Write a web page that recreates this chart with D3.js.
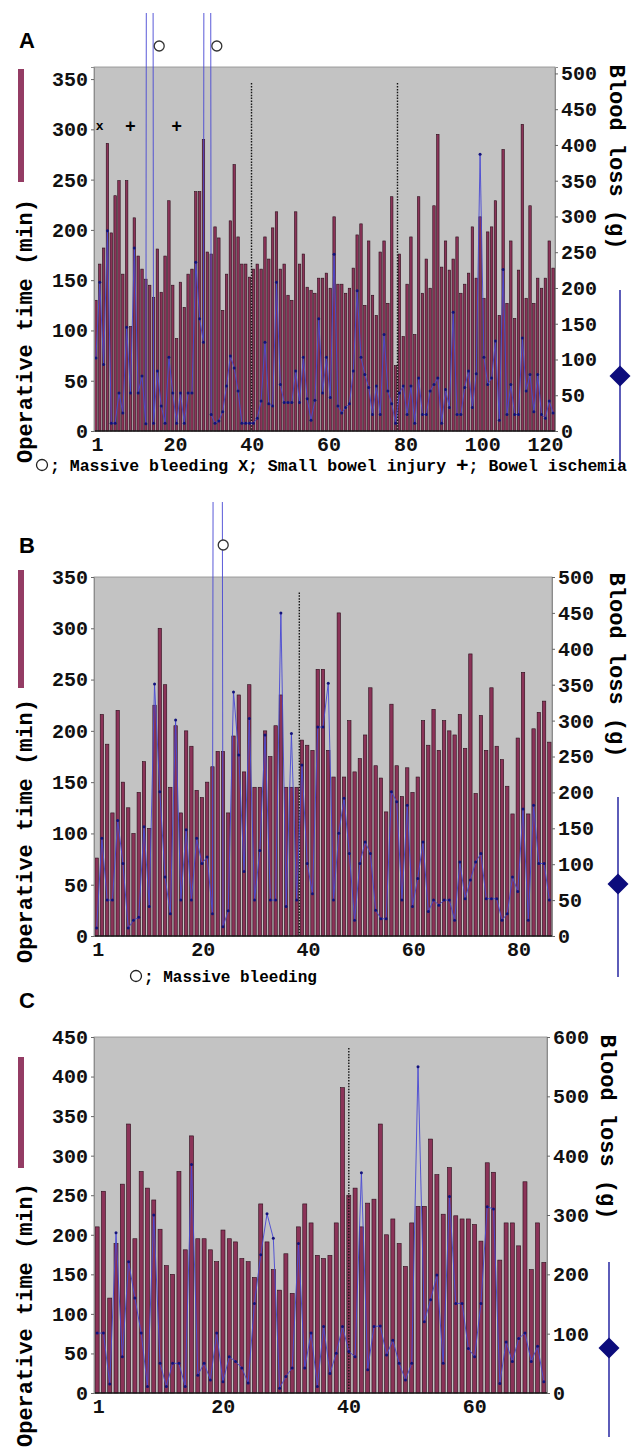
<!DOCTYPE html>
<html>
<head>
<meta charset="utf-8">
<script src="https://cdn.jsdelivr.net/npm/d3@7"></script>
<style>
body { margin: 0; background: #fff; }
svg { display: block; }
</style>
</head>
<body>
<svg width="631" height="1454"></svg>
<script>
// operative time (min) and blood loss (g) per case
var opTimeA = [130,166,182,286,197,234,249,156,249,104, 212,174,161,151,145,133,181,138,174,229,
    145,92,148,123,156,161,238,238,290,178, 176,203,192,120,156,209,265,193,166,166,
    153,161,166,161,193,171,202,218,161,166, 135,130,218,166,176,143,140,137,152,152,
    157,142,213,146,146,137,142,162,195,206, 125,189,135,115,178,189,127,233,65,176,
    94,146,193,96,233,137,171,142,224,295, 163,189,160,171,193,137,146,157,203,152,
    213,132,198,203,229,115,280,127,189,112, 160,305,132,224,127,152,142,152,189,162];
var bloodA = [102,208,93,280,11,11,53,25,145,53, 256,53,77,10,5000,11,84,35,11,103,
    53,11,53,11,53,53,236,157,124,5000, 23,11,14,27,63,105,88,56,11,11,
    11,11,18,42,124,38,35,208,65,40, 40,40,84,40,103,45,15,43,157,53,
    103,47,247,35,25,33,38,84,196,103, 79,61,23,63,23,135,56,38,11,53,
    63,23,63,11,74,23,23,56,65,74, 11,58,33,166,23,23,61,84,33,80,
    387,103,65,74,126,15,226,23,65,23, 23,130,56,79,27,79,23,18,42,25];

var opTimeB = [76,216,187,120,220,150,125,100,140,170, 105,225,300,245,145,205,120,200,185,142,
    135,150,165,180,180,120,195,235,160,245, 145,145,200,175,205,235,145,145,145,191,
    186,181,260,260,181,155,315,155,210,160, 173,196,242,166,154,121,226,166,136,164,
    140,155,210,186,221,181,210,200,196,216, 183,275,139,215,181,242,185,172,146,119,
    193,257,119,202,218,229,189];
var bloodB = [11,136,50,50,161,101,11,22,26,152, 41,351,201,82,31,301,50,148,50,136,
    101,110,31,5000,13,35,340,252,90,303, 50,119,280,50,50,450,41,282,50,238,
    101,59,291,291,352,50,143,192,115,22, 101,131,115,36,24,24,201,187,50,182,
    41,80,131,34,50,43,50,50,22,103, 52,78,103,115,52,52,52,22,31,82,
    62,177,22,182,101,101,50];

var opTimeC = [210,255,120,189,264,340,195,280,259,244, 207,161,150,280,181,325,195,195,181,166,
    206,195,191,170,166,146,239,191,156,130, 176,126,210,239,215,174,170,174,215,386,
    250,259,210,240,245,340,200,220,189,160, 215,236,236,321,276,226,285,224,220,220,
    213,192,291,279,168,215,215,186,267,156, 215,165];
var bloodC = [101,101,15,270,61,221,160,101,11,300, 50,11,50,50,11,385,30,50,22,101,
    19,61,53,42,17,151,233,302,261,8, 28,42,252,42,101,11,112,33,67,112,
    70,61,371,39,112,113,64,89,50,22, 50,550,120,157,199,50,331,151,151,75,
    61,151,314,310,16,86,53,92,101,53, 79,19];

// tick labels
var leftTicksAB = [0,50,100,150,200,250,300,350];
var rightTicksAB = [0,50,100,150,200,250,300,350,400,450,500];
var leftTicksC = [0,50,100,150,200,250,300,350,400,450];
var rightTicksC = [0,100,200,300,400,500,600];
var xTicksA = [1,20,40,60,80,100,120];
var xTicksB = [1,20,40,60,80];
var xTicksC = [1,20,40,60];

// dotted separators (case positions), massive bleeding cases, complication marks
var dottedA = [41.5, 79.5];
var dottedB = [39.5];
var dottedC = [41];
var massiveA = [15, 30];
var massiveB = [24];
var markCasesA = [2, 10, 22];
var markSymbolsA = ["x", "+", "+"];

var FONT = "'Courier New','Liberation Mono',monospace";
var svg = d3.select("svg");
var defs = svg.append("defs");

var panels = [
    {id: "A", op: opTimeA, blood: bloodA, x0: 94, x1: 555, y0: 67, y1: 431, leftMax: 362, rightMax: 509,
     leftTicks: leftTicksAB, rightTicks: rightTicksAB, xTicks: xTicksA, dotted: dottedA, dottedTop: 346,
     massive: massiveA, circleDx: 9.5, circleY: 46, clipTop: 13,
     letterY: 48, legY0: 69, legY1: 182, opTitleY: 331, blTitleX: 610, blTitleY: 157,
     legX: 620, legLine0: 290, legLine1: 468, diamondY: 376},
    {id: "B", op: opTimeB, blood: bloodB, x0: 94, x1: 552, y0: 577, y1: 936, leftMax: 350, rightMax: 500,
     leftTicks: leftTicksAB, rightTicks: rightTicksAB, xTicks: xTicksB, dotted: dottedB, dottedTop: 335,
     massive: massiveB, circleDx: 5.5, circleY: 545, clipTop: 502,
     letterY: 553, legY0: 570, legY1: 688, opTitleY: 831, blTitleX: 610, blTitleY: 665,
     legX: 618, legLine0: 797, legLine1: 977, diamondY: 884},
    {id: "C", op: opTimeC, blood: bloodC, x0: 94, x1: 547, y0: 1037, y1: 1393, leftMax: 450, rightMax: 600,
     leftTicks: leftTicksC, rightTicks: rightTicksC, xTicks: xTicksC, dotted: dottedC, dottedTop: 436,
     massive: [], circleDx: 0, circleY: 0, clipTop: 1037,
     letterY: 1008, legY0: 1057, legY1: 1168, opTitleY: 1315, blTitleX: 601, blTitleY: 1127,
     legX: 609, legLine0: 1262, legLine1: 1437, diamondY: 1348}
];

function styleAxis(ax) {
    ax.selectAll("text")
        .attr("font-family", FONT)
        .attr("font-weight", "bold")
        .attr("font-size", 20)
        .attr("fill", "#111");
    ax.selectAll(".tick line").attr("stroke", "#666");
}

function drawPanel(p) {
    var g = svg.append("g");
    var n = p.op.length;
    var band = d3.scaleBand().domain(d3.range(1, n + 1)).range([p.x0, p.x1])
        .paddingInner(0.36).paddingOuter(0.18);
    var xc = d3.scaleLinear().domain([0.5, n + 0.5]).range([p.x0, p.x1]);
    var yL = d3.scaleLinear().domain([0, p.leftMax]).range([p.y1, p.y0]);
    var yR = d3.scaleLinear().domain([0, p.rightMax]).range([p.y1, p.y0]);

    g.append("rect")
        .attr("x", p.x0).attr("y", p.y0)
        .attr("width", p.x1 - p.x0).attr("height", p.y1 - p.y0)
        .attr("fill", "#c3c3c3")
        .attr("stroke", "#8c8c8c").attr("stroke-width", 0.8);

    g.selectAll(".bar")
        .data(p.op)
        .enter()
        .append("rect")
        .attr("x", function (d, i) { return band(i + 1); })
        .attr("width", band.bandwidth())
        .attr("y", function (d) { return yL(d); })
        .attr("height", function (d) { return p.y1 - yL(d); })
        .attr("fill", "#8b3358")
        .attr("stroke", "#2b0d1a")
        .attr("stroke-width", 0.6);

    g.selectAll(".sep")
        .data(p.dotted)
        .enter()
        .append("line")
        .attr("x1", function (d) { return xc(d); })
        .attr("x2", function (d) { return xc(d); })
        .attr("y1", yL(p.dottedTop))
        .attr("y2", p.y1)
        .attr("stroke", "#151515")
        .attr("stroke-width", 1.4)
        .attr("stroke-dasharray", "1.5,1.4");

    defs.append("clipPath").attr("id", "clip" + p.id)
        .append("rect")
        .attr("x", p.x0 - 2).attr("y", p.clipTop)
        .attr("width", p.x1 - p.x0 + 4).attr("height", p.y1 - p.clipTop);

    var line = d3.line()
        .x(function (d, i) { return xc(i + 1); })
        .y(function (d) { return yR(d); });

    g.append("path")
        .datum(p.blood)
        .attr("d", line)
        .attr("fill", "none")
        .attr("stroke", "#4848d4")
        .attr("stroke-width", 1)
        .attr("stroke-opacity", 0.9)
        .attr("clip-path", "url(#clip" + p.id + ")");

    g.selectAll(".pt")
        .data(p.blood)
        .enter()
        .append("circle")
        .attr("cx", function (d, i) { return xc(i + 1); })
        .attr("cy", function (d) { return yR(d); })
        .attr("r", 1.5)
        .attr("fill", "#13137a")
        .attr("clip-path", "url(#clip" + p.id + ")");

    // bottom axis line
    g.append("line")
        .attr("x1", p.x0).attr("x2", p.x1)
        .attr("y1", p.y1).attr("y2", p.y1)
        .attr("stroke", "#1a1a1a").attr("stroke-width", 1.6);

    var axL = g.append("g").attr("transform", "translate(" + p.x0 + ",0)")
        .call(d3.axisLeft(yL).tickValues(p.leftTicks).tickSize(3).tickPadding(3));
    axL.select(".domain").attr("stroke", "#8c8c8c");
    styleAxis(axL);

    var axR = g.append("g").attr("transform", "translate(" + p.x1 + ",0)")
        .call(d3.axisRight(yR).tickValues(p.rightTicks).tickSize(3).tickPadding(3));
    axR.select(".domain").attr("stroke", "#8c8c8c");
    styleAxis(axR);

    var axB = g.append("g").attr("transform", "translate(0," + p.y1 + ")")
        .call(d3.axisBottom(xc).tickValues(p.xTicks).tickSize(0).tickPadding(6));
    axB.select(".domain").remove();
    styleAxis(axB);
    axB.selectAll("text").attr("x", function (d) {
        if (d === 1) return 1;
        return xc(d) + 6 > p.x1 - 4 ? -8 : 6;
    });

    // massive bleeding circles
    g.selectAll(".mb")
        .data(p.massive)
        .enter()
        .append("circle")
        .attr("cx", function (d) { return xc(d) + p.circleDx; })
        .attr("cy", p.circleY)
        .attr("r", 5)
        .attr("fill", "#fff")
        .attr("stroke", "#333")
        .attr("stroke-width", 1.3);

    // panel letter
    g.append("text")
        .attr("x", 19).attr("y", p.letterY)
        .attr("font-family", "'Liberation Sans',Arial,sans-serif")
        .attr("font-weight", "bold")
        .attr("font-size", 22)
        .text(p.id);

    // left legend bar and title
    g.append("rect")
        .attr("x", 18).attr("y", p.legY0)
        .attr("width", 6).attr("height", p.legY1 - p.legY0)
        .attr("fill", "#943c64");
    g.append("text")
        .attr("transform", "translate(32," + p.opTitleY + ") rotate(-90)")
        .attr("text-anchor", "middle")
        .attr("font-family", FONT).attr("font-weight", "bold").attr("font-size", 22)
        .text("Operative time (min)");

    // right title and legend marker
    g.append("text")
        .attr("transform", "translate(" + p.blTitleX + "," + p.blTitleY + ") rotate(90)")
        .attr("text-anchor", "middle")
        .attr("font-family", FONT).attr("font-weight", "bold").attr("font-size", 22)
        .text("Blood loss (g)");
    g.append("line")
        .attr("x1", p.legX).attr("x2", p.legX)
        .attr("y1", p.legLine0).attr("y2", p.legLine1)
        .attr("stroke", "#3434a8").attr("stroke-width", 1.6);
    var s = 10.5;
    g.append("path")
        .attr("d", "M" + p.legX + "," + (p.diamondY - s) + "L" + (p.legX + s) + "," + p.diamondY +
            "L" + p.legX + "," + (p.diamondY + s) + "L" + (p.legX - s) + "," + p.diamondY + "Z")
        .attr("fill", "#0c0c7c");

    return {g: g, xc: xc, yL: yL};
}

var drawn = panels.map(drawPanel);

// complication marks in panel A
var pa = drawn[0];
pa.g.selectAll(".mark")
    .data(markCasesA)
    .enter()
    .append("text")
    .attr("x", function (d) { return pa.xc(d); })
    .attr("y", pa.yL(304))
    .attr("dy", "0.35em")
    .attr("text-anchor", "middle")
    .attr("font-family", FONT)
    .attr("font-weight", "bold")
    .attr("font-size", function (d, i) { return markSymbolsA[i] === "x" ? 13 : 18; })
    .text(function (d, i) { return markSymbolsA[i]; });

// footnotes
svg.append("circle").attr("cx", 42).attr("cy", 465).attr("r", 5.5)
    .attr("fill", "#fff").attr("stroke", "#222").attr("stroke-width", 1.3);
var footA = svg.append("text").attr("x", 50).attr("y", 471)
    .attr("font-family", FONT).attr("font-weight", "bold").attr("font-size", 16.5);
footA.append("tspan").text("; Massive bleeding X; Small bowel injury ");
footA.append("tspan").attr("font-size", 21).attr("dy", 1).text("+");
footA.append("tspan").attr("dy", -1).text("; Bowel ischemia");

svg.append("circle").attr("cx", 136).attr("cy", 976).attr("r", 5.5)
    .attr("fill", "#fff").attr("stroke", "#222").attr("stroke-width", 1.3);
svg.append("text").attr("x", 144).attr("y", 982)
    .attr("font-family", FONT).attr("font-weight", "bold").attr("font-size", 16)
    .text("; Massive bleeding");
</script>
</body>
</html>
